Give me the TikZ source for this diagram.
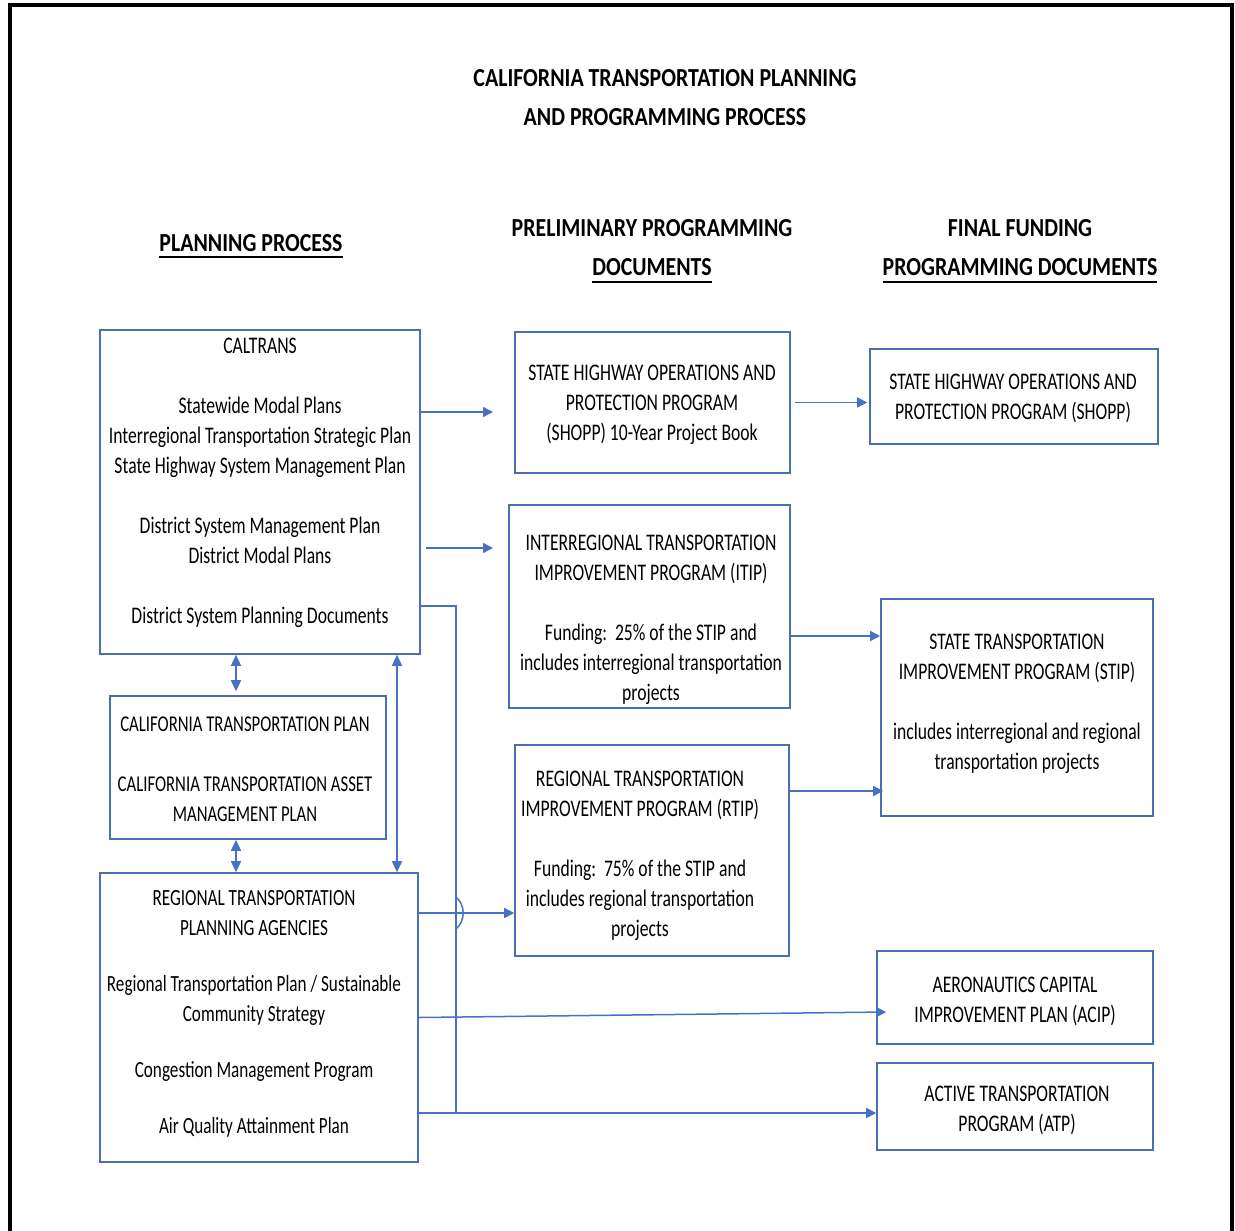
\documentclass[tikz,border=0pt]{standalone}
\usepackage{fontspec}
\setmainfont[FakeStretch=0.74]{Carlito}
\newfontfamily\headfont[FakeStretch=0.84]{Carlito}
\usetikzlibrary{positioning,arrows.meta}
\definecolor{boxblue}{HTML}{4A6EAE}
\definecolor{linkblue}{HTML}{4472C4}
\newcommand\undertext[1]{\vtop{\hbox{#1}\kern2.6pt\hrule height 0.9pt}}
\tikzset{
  box/.style={rectangle,draw=boxblue,line width=0.8pt,inner sep=0},
  txt/.style={align=center,inner sep=0,yshift=-1.25pt,font={\fontsize{11.9}{15}\selectfont}},
  head/.style={align=center,inner sep=0,font={\headfont\bfseries\fontsize{13}{19.5}\selectfont}},
  link/.style={draw=linkblue,line width=0.75pt},
  arrow/.style={link,-{Triangle[length=5pt,width=5pt]}},
  both/.style={link,{Triangle[length=5.5pt,width=5pt]}-{Triangle[length=5.5pt,width=5pt]}},
  frame/.style={line width=2pt},
}

\begin{document}
\begin{tikzpicture}[x=0.5pt,y=-0.5pt]
  \useasboundingbox (0,0) rectangle (1235,1230);
  \draw[frame] (10,1232) -- (10,5.5) -- (1232,5.5) -- (1232,1232);

  % headings
  \node[head] (title) at (665,97.5) {CALIFORNIA TRANSPORTATION PLANNING\\AND PROGRAMMING PROCESS};
  \node[head,anchor=base] (h-plan) at (251,251) {\undertext{PLANNING PROCESS}};
  \node[head,anchor=north] (h-pre) at (652,219) {PRELIMINARY PROGRAMMING\\\undertext{DOCUMENTS}};
  \node[head,anchor=north] (h-fin) at (1020,219) {FINAL FUNDING\\\undertext{PROGRAMMING DOCUMENTS}};

  % planning column
  \node[box,minimum width=160pt,minimum height=162pt] (cal) at (260,492) {};
  \node[txt] (cal-t) at (260,480.5) {CALTRANS\\[15pt]
    Statewide Modal Plans\\
    Interregional Transportation Strategic Plan\\
    State Highway System Management Plan\\[15pt]
    District System Management Plan\\
    District Modal Plans\\[15pt]
    District System Planning Documents};
  \node[box,minimum width=138pt,minimum height=71.5pt] (ctp) at (248,767.5) {};
  \node[txt,font={\fontsize{11.3}{15}\selectfont}] (ctp-t) at (245,766.5) {CALIFORNIA TRANSPORTATION PLAN\\[15pt]
    CALIFORNIA TRANSPORTATION ASSET\\MANAGEMENT PLAN};
  \node[box,minimum width=159pt,minimum height=144.5pt] (rtpa) at (259,1017.5) {};
  \node[txt,font={\fontsize{11.6}{15}\selectfont}] (rtpa-t) at (254,1011) {REGIONAL TRANSPORTATION\\PLANNING AGENCIES\\[13pt]
    Regional Transportation Plan / Sustainable\\Community Strategy\\[13pt]
    Congestion Management Program\\[13pt]
    Air Quality Attainment Plan};

  % preliminary column
  \node[box,minimum width=137.5pt,minimum height=70.5pt] (shb) at (652.5,402.5) {};
  \node[txt] (shb-t) at (652,402.5) {STATE HIGHWAY OPERATIONS AND\\PROTECTION PROGRAM\\(SHOPP) 10-Year Project Book};
  \node[box,minimum width=140.5pt,minimum height=101.5pt] (itip) at (649.5,606.5) {};
  \node[txt] (itip-t) at (651,617.5) {INTERREGIONAL TRANSPORTATION\\IMPROVEMENT PROGRAM (ITIP)\\[15pt]
    Funding:\ \ 25\% of the STIP and\\includes interregional transportation\\projects};
  \node[box,minimum width=137pt,minimum height=105.5pt] (rtip) at (652,850.5) {};
  \node[txt] (rtip-t) at (640,853) {REGIONAL TRANSPORTATION\\IMPROVEMENT PROGRAM (RTIP)\\[15pt]
    Funding:\ \ 75\% of the STIP and\\includes regional transportation\\projects};

  % final column
  \node[box,minimum width=144pt,minimum height=47.5pt] (shopp) at (1014,396.5) {};
  \node[txt] (shopp-t) at (1013,395.5) {STATE HIGHWAY OPERATIONS AND\\PROTECTION PROGRAM (SHOPP)};
  \node[box,minimum width=136pt,minimum height=108.5pt] (stip) at (1017,707.5) {};
  \node[txt] (stip-t) at (1017,701.5) {STATE TRANSPORTATION\\IMPROVEMENT PROGRAM (STIP)\\[15pt]
    includes interregional and regional\\transportation projects};
  \node[box,minimum width=138pt,minimum height=46.5pt] (acip) at (1015,997.5) {};
  \node[txt] (acip-t) at (1015,998.5) {AERONAUTICS CAPITAL\\IMPROVEMENT PLAN (ACIP)};
  \node[box,minimum width=138pt,minimum height=43.5pt] (atp) at (1015,1106.5) {};
  \node[txt] (atp-t) at (1017,1107.5) {ACTIVE TRANSPORTATION\\PROGRAM (ATP)};

  % free ends and rows of the connectors
  \coordinate (to-shb) at (493,412);
  \coordinate (to-itip) at (493,548);
  \coordinate (row-down) at (0,606);
  \coordinate (row-itip) at (0,636);
  \coordinate (row-rtip) at (0,791);
  \coordinate (row-rtpa) at (0,913);
  \coordinate (bus) at (456,1113);
  \coordinate (hop) at (456,913);
  \coordinate (col-a) at (236,0);
  \coordinate (col-b) at (397,0);

  % connectors
  \draw[arrow] (cal.east |- to-shb) -- (to-shb);
  \draw[arrow] ([xshift=2.5pt]cal.east |- to-itip) -- (to-itip);
  \draw[arrow] ([xshift=2pt]shb.east) -- ([xshift=-1pt]shopp.west |- shb.east);
  \draw[arrow] (itip.east |- row-itip) -- (stip.west |- row-itip);
  \draw[arrow] (rtip.east |- row-rtip) -- ([xshift=1.5pt]stip.west |- row-rtip);
  \draw[arrow] (rtpa.east |- row-rtpa) -- (rtip.west |- row-rtpa);
  \draw[arrow] (rtpa.east) -- ([xshift=5pt,yshift=-7.25pt]acip.west);
  \draw[link] (cal.east |- row-down) -| (bus);
  \draw[link] ([yshift=8pt]hop) to[bend left=50] ([yshift=-8pt]hop);
  \draw[arrow] (rtpa.east |- bus) -- (atp.west |- bus);
  \draw[both] (cal.south -| col-a) -- ([yshift=2pt]ctp.north -| col-a);
  \draw[both] (ctp.south -| col-a) -- (rtpa.north -| col-a);
  \draw[both] (cal.south -| col-b) -- (rtpa.north -| col-b);
\end{tikzpicture}
\end{document}
